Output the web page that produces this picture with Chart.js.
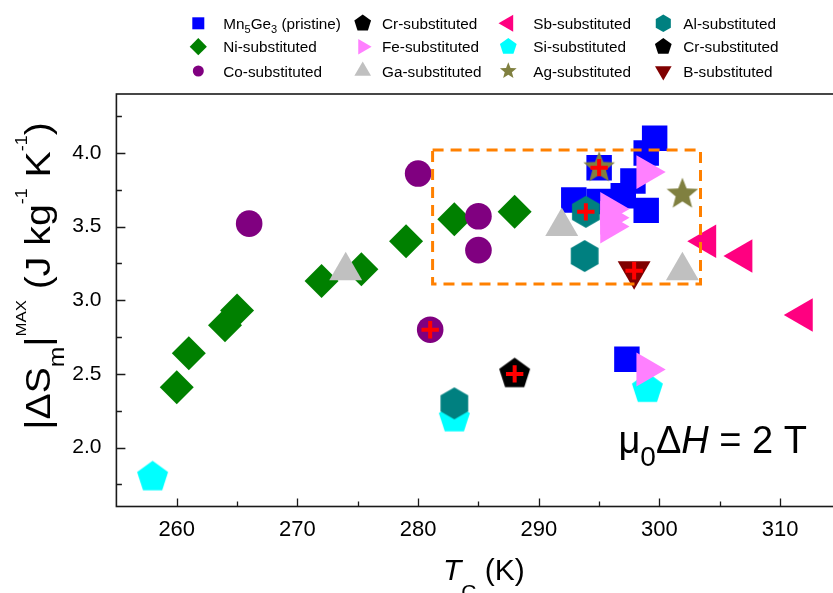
<!DOCTYPE html>
<html>
<head>
<meta charset="utf-8">
<script src="https://cdn.jsdelivr.net/npm/chart.js@4/dist/chart.umd.min.js"></script>
<style>
  html, body { margin: 0; padding: 0; background: #fff; overflow: hidden; }
  #wrap { width: 833px; height: 593px; overflow: hidden; position: relative; }
  canvas { display: block; }
</style>
</head>
<body>
<div id="wrap"><canvas id="chart" width="860" height="593"></canvas></div>
<script>
// Curie temperature Tc (K) and peak magnetic entropy change |ΔSm|max (J kg-1 K-1)
// of Mn5Ge3 and its substituted variants, field change 2 T.
const pristineTc = [299.6, 298.9, 297.8, 297.0, 298.9, 295.0, 292.9, 295.0, 297.3];
const pristineDS = [4.10, 4.00, 3.81, 3.71, 3.61, 3.90, 3.68, 3.67, 2.60];
const niTc = [260, 261, 264, 265, 272, 275.3, 279, 283, 288];
const niDS = [2.41, 2.64, 2.83, 2.93, 3.13, 3.21, 3.40, 3.55, 3.60];
const coTc = [266, 280, 285, 285, 281];
const coDS = [3.52, 3.86, 3.57, 3.34, 2.80];
const crTc = [288];
const crDS = [2.50];
const feTc = [298.9, 295.9, 295.9, 295.9, 298.9];
const feDS = [3.87, 3.62, 3.56, 3.50, 2.53];
const gaTc = [274, 291.9, 301.9];
const gaDS = [3.20, 3.50, 3.20];
const sbTc = [303.9, 306.9, 311.9];
const sbDS = [3.40, 3.30, 2.90];
const siTc = [258, 283, 299];
const siDS = [1.80, 2.20, 2.40];
const agTc = [295.0, 301.9];
const agDS = [3.90, 3.72];
const alTc = [293.9, 293.8, 283];
const alDS = [3.60, 3.30, 2.30];
const cr2Tc = [];
const cr2DS = [];
const bTc = [297.9];
const bDS = [3.20];

// samples flagged with a red cross: [series key, point index]
const crossed = [['co', 4], ['cr', 0], ['ag', 0], ['al', 0], ['b', 0]];

// axis ticks
const tcTicks = [260, 265, 270, 275, 280, 285, 290, 295, 300, 305, 310];
const tcTickLabels = [260, 270, 280, 290, 300, 310];
const dsTicks = [1.75, 2.0, 2.25, 2.5, 2.75, 3.0, 3.25, 3.5, 3.75, 4.0, 4.25];
const dsTickLabels = [2.0, 2.5, 3.0, 3.5, 4.0];

// highlighted window (Tc range, |ΔSm| range)
const windowTc = [281.2, 303.4];
const windowDS = [3.11, 4.02];

// field label anchor (Tc, |ΔSm|)
const fieldLabelAt = [296.6, 1.962];

const FONT = '"Liberation Sans", Arial, Helvetica, sans-serif';

// ---- marker shapes ----
function poly(g, x, y, R, n, a0) {
  for (let i = 0; i < n; i++) {
    const a = a0 + i * 2 * Math.PI / n;
    const px = x + R * Math.cos(a), py = y + R * Math.sin(a);
    if (i === 0) g.moveTo(px, py); else g.lineTo(px, py);
  }
  g.closePath();
}
function starPath(g, x, y, R, ratio) {
  for (let i = 0; i < 10; i++) {
    const a = -Math.PI / 2 + i * Math.PI / 5;
    const r = i % 2 === 0 ? R : R * ratio;
    const px = x + r * Math.cos(a), py = y + r * Math.sin(a);
    if (i === 0) g.moveTo(px, py); else g.lineTo(px, py);
  }
  g.closePath();
}
function traceShape(g, kind, x, y, R, rot) {
  switch (kind) {
    case 'rect': g.rect(x - R, y - R, 2 * R, 2 * R); break;
    case 'diamond': poly(g, x, y, R, 4, -Math.PI / 2); break;
    case 'circle': g.arc(x, y, R, 0, Math.PI * 2); break;
    case 'triangle': poly(g, x, y, R, 3, -Math.PI / 2 + (rot || 0) * Math.PI / 180); break;
    case 'pentagon': poly(g, x, y, R, 5, -Math.PI / 2); break;
    case 'hexagon': poly(g, x, y, R, 6, -Math.PI / 2); break;
    case 'star': starPath(g, x, y, R, 0.43); break;
  }
}
function makeIcon(kind, R, color) {
  const s = Math.ceil(R * 2) + 4;
  const c = document.createElement('canvas');
  c.width = s; c.height = s;
  const g = c.getContext('2d');
  g.fillStyle = color;
  g.beginPath();
  traceShape(g, kind, s / 2, s / 2, R, 0);
  g.fill();
  return c;
}

// series styles: legend order is column by column
const series = [
  { key: 'pristine', tc: pristineTc, ds: pristineDS, color: '#0000FF', shape: 'rect',     style: 'rect',     radius: 18,   rot: 0,   legendR: 6,   order: 12,
    label: [['Mn'], ['5', 'sub'], ['Ge'], ['3', 'sub'], [' (pristine)']] },
  { key: 'ni', tc: niTc, ds: niDS, color: '#008000', shape: 'diamond',  style: 'rectRot',  radius: 17,   rot: 0,   legendR: 8.6, order: 8,
    label: [['Ni-substituted']] },
  { key: 'co', tc: coTc, ds: coDS, color: '#800080', shape: 'circle',   style: 'circle',   radius: 13.3, rot: 0,   legendR: 5.5, order: 5,
    label: [['Co-substituted']] },
  { key: 'cr', tc: crTc, ds: crDS, color: '#000000', shape: 'pentagon', style: null,       radius: 16.3, rot: 0,   legendR: 8.8, order: 10,
    label: [['Cr-substituted']] },
  { key: 'fe', tc: feTc, ds: feDS, color: '#FF80FF', shape: 'triangle', style: 'triangle', radius: 19.5, rot: 90,  legendR: 8.9, order: 2,
    label: [['Fe-substituted']] },
  { key: 'ga', tc: gaTc, ds: gaDS, color: '#C0C0C0', shape: 'triangle', style: 'triangle', radius: 19,   rot: 0,   legendR: 9.6, order: 4,
    label: [['Ga-substituted']] },
  { key: 'sb', tc: sbTc, ds: sbDS, color: '#FF0080', shape: 'triangle', style: 'triangle', radius: 19.3, rot: 270, legendR: 9.8, order: 7,
    label: [['Sb-substituted']] },
  { key: 'si', tc: siTc, ds: siDS, color: '#00FFFF', shape: 'pentagon', style: null,       radius: 16.3, rot: 0,   legendR: 8.8, order: 9,
    label: [['Si-substituted']] },
  { key: 'ag', tc: agTc, ds: agDS, color: '#808040', shape: 'star',     style: null,       radius: 16.6, rot: 0,   legendR: 8.8, order: 1,
    label: [['Ag-substituted']] },
  { key: 'al', tc: alTc, ds: alDS, color: '#008080', shape: 'hexagon',  style: null,       radius: 16,   rot: 0,   legendR: 8.7, order: 3,
    label: [['Al-substituted']] },
  { key: 'cr2', tc: cr2Tc, ds: cr2DS, color: '#000000', shape: 'pentagon', style: null,    radius: 16.3, rot: 0,   legendR: 8.8, order: 11,
    label: [['Cr-substituted']] },
  { key: 'b', tc: bTc, ds: bDS, color: '#800000', shape: 'triangle', style: 'triangle',   radius: 19,   rot: 180, legendR: 9.6, order: 6,
    label: [['B-substituted']] }
];

const legendCols = [198.3, 362.7, 508.3, 663.3];
const legendTextX = [223.3, 382.0, 533.3, 683.3];
const legendRows = [23.3, 46.7, 71];

const datasets = series.map(s => ({
  label: s.label.map(p => p[0]).join(''),
  data: s.tc.map((t, i) => ({ x: t, y: s.ds[i] })),
  pointStyle: s.style || makeIcon(s.shape, s.radius, s.color),
  pointRadius: s.radius,
  pointRotation: s.rot,
  backgroundColor: s.color,
  borderColor: s.color,
  borderWidth: 0,
  pointBorderWidth: 0,
  order: s.order
}));

const byKey = {};
series.forEach(s => { byKey[s.key] = s; });
datasets.push({
  label: 'marked',
  data: crossed.map(([k, i]) => ({ x: byKey[k].tc[i], y: byKey[k].ds[i] })),
  pointStyle: 'cross',
  pointRadius: 8.7,
  pointBorderWidth: 4,
  borderWidth: 4,
  borderColor: '#FF0000',
  backgroundColor: '#FF0000',
  order: 0
});

// ---- rich text (sub/superscripts) ----
function richWidth(g, parts) {
  let w = 0;
  for (const p of parts) { g.font = (p.it ? 'italic ' : '') + p.size + 'px ' + FONT; w += g.measureText(p.t).width; }
  return w;
}
function drawRich(g, parts, x, y) {
  let cx = x;
  for (const p of parts) {
    g.font = (p.it ? 'italic ' : '') + p.size + 'px ' + FONT;
    g.fillText(p.t, cx, y + (p.dy || 0));
    cx += g.measureText(p.t).width;
  }
  return cx;
}

const decorations = {
  id: 'decorations',
  afterDatasetsDraw(chart) {
    const g = chart.ctx;
    const xs = chart.scales.x, ys = chart.scales.y;
    // dashed window
    const x0 = xs.getPixelForValue(windowTc[0]), x1 = xs.getPixelForValue(windowTc[1]);
    const y0 = ys.getPixelForValue(windowDS[1]), y1 = ys.getPixelForValue(windowDS[0]);
    g.save();
    g.strokeStyle = '#FF8000';
    g.lineWidth = 3;
    g.setLineDash([11, 7]);
    g.strokeRect(x0, y0, x1 - x0, y1 - y0);
    g.restore();
  },
  afterDraw(chart) {
    const g = chart.ctx;
    const a = chart.chartArea;
    const xs = chart.scales.x, ys = chart.scales.y;
    g.save();
    // frame
    g.strokeStyle = '#1a1a1a';
    g.lineWidth = 1.6;
    g.strokeRect(a.left, a.top, a.right - a.left, a.bottom - a.top);
    // inward tick marks
    g.lineWidth = 1.3;
    g.beginPath();
    tcTicks.forEach(v => {
      const px = Math.round(xs.getPixelForValue(v)) + 0.5;
      const len = tcTickLabels.includes(v) ? 8 : 5;
      g.moveTo(px, a.bottom); g.lineTo(px, a.bottom - len);
    });
    dsTicks.forEach(v => {
      const py = Math.round(ys.getPixelForValue(v)) + 0.5;
      const len = dsTickLabels.includes(v) ? 9 : 5.5;
      g.moveTo(a.left, py); g.lineTo(a.left + len, py);
    });
    g.stroke();

    g.fillStyle = '#000';
    g.textBaseline = 'alphabetic';
    g.textAlign = 'left';

    // x title: Tc (K)
    drawRich(g, [
      { t: 'T', size: 30, it: true },
      { t: 'C', size: 21, dy: 19 },
      { t: ' (K)', size: 30 }
    ], 443, 580);

    // y title: |ΔSm|MAX (J kg-1 K-1), slightly widened along the text
    const yParts = [
      { t: '|\u0394S', size: 35 },
      { t: 'm', size: 22, dy: 14 },
      { t: '|', size: 35 },
      { t: 'MAX', size: 15, dy: -24 },
      { t: ' (J kg', size: 35 },
      { t: '-1', size: 16, dy: -23 },
      { t: ' K', size: 35 },
      { t: '-1', size: 16, dy: -23 },
      { t: ')', size: 35 }
    ];
    const stretch = 1.12;
    const yw = richWidth(g, yParts);
    g.save();
    g.translate(50, 276);
    g.rotate(-Math.PI / 2);
    g.scale(stretch, 1);
    drawRich(g, yParts, -yw / 2, 0);
    g.restore();

    // field label
    const fx = xs.getPixelForValue(fieldLabelAt[0]);
    const fy = ys.getPixelForValue(fieldLabelAt[1]);
    drawRich(g, [
      { t: '\u03BC', size: 38 },
      { t: '0', size: 28, dy: 13 },
      { t: '\u0394', size: 38 },
      { t: 'H', size: 38, it: true },
      { t: ' = 2 T', size: 38 }
    ], fx, fy);

    // legend
    series.forEach((s, idx) => {
      const col = Math.floor(idx / 3), row = idx % 3;
      const mx = legendCols[col], my = legendRows[row];
      g.fillStyle = s.color;
      g.beginPath();
      traceShape(g, s.shape, mx, my, s.legendR, s.rot);
      g.fill();
      g.fillStyle = '#000';
      const parts = s.label.map(p => p[1] === 'sub'
        ? { t: p[0], size: 11, dy: 4 }
        : { t: p[0], size: 15.3 });
      drawRich(g, parts, legendTextX[col], my + 5.5);
    });
    g.restore();
  }
};

Chart.defaults.font.family = FONT;

new Chart(document.getElementById('chart'), {
  type: 'scatter',
  data: { datasets },
  options: {
    responsive: false,
    animation: false,
    devicePixelRatio: 1,
    events: [],
    layout: { padding: { left: 0, right: 15, top: 94, bottom: 0 } },
    plugins: { legend: { display: false }, tooltip: { enabled: false } },
    scales: {
      x: {
        type: 'linear', min: 255, max: 315,
        afterBuildTicks: s => { s.ticks = tcTicks.map(v => ({ value: v })); },
        afterFit: s => { s.height = 86.5; },
        grid: { display: false, drawTicks: false },
        border: { display: false },
        ticks: {
          autoSkip: false, maxRotation: 0, padding: 10, color: '#000',
          font: { size: 22, family: FONT },
          callback: v => tcTickLabels.includes(v) ? String(v) : ''
        }
      },
      y: {
        type: 'linear', min: 1.6, max: 4.4,
        afterBuildTicks: s => { s.ticks = dsTicks.map(v => ({ value: v })); },
        afterFit: s => { s.width = 116.4; },
        grid: { display: false, drawTicks: false },
        border: { display: false },
        ticks: {
          autoSkip: false, padding: 15, color: '#000',
          font: { size: 21, family: FONT },
          callback: v => dsTickLabels.includes(v) ? v.toFixed(1) : ''
        }
      }
    }
  },
  plugins: [decorations]
});
</script>
</body>
</html>
